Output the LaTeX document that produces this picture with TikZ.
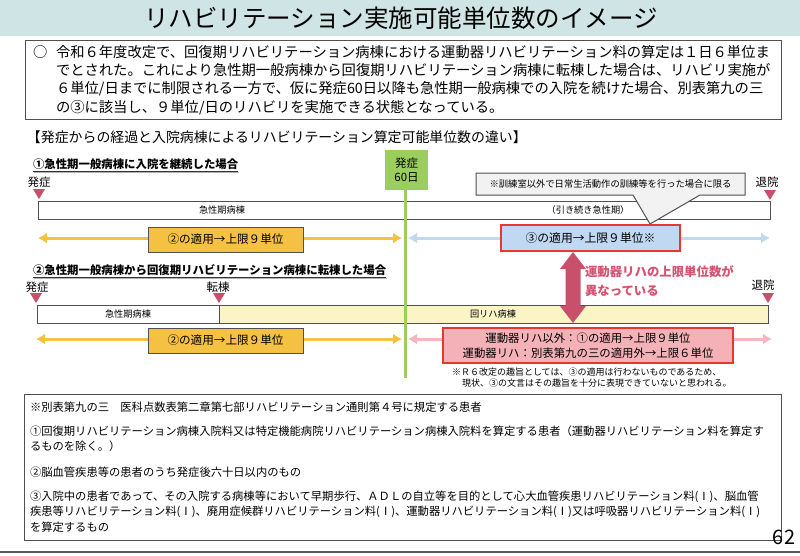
\documentclass[tikz,border=0pt]{standalone}
\usepackage{fontspec}
\setmainfont{Noto Sans CJK JP}
\usetikzlibrary{arrows.meta}
\newcommand\fsz[2]{\fontsize{#1}{#2}\selectfont}
\definecolor{titlebg}{RGB}{207,228,228}
\definecolor{grn}{RGB}{155,205,95}
\definecolor{orng}{RGB}{245,193,66}
\definecolor{lblue}{RGB}{192,216,242}
\definecolor{pinkar}{RGB}{245,182,190}
\definecolor{pinkbox}{RGB}{244,178,184}
\definecolor{redb}{RGB}{232,56,46}
\definecolor{rose}{RGB}{200,80,106}
\definecolor{rosetxt}{RGB}{212,82,114}
\definecolor{ylw}{RGB}{251,244,196}
\definecolor{gry}{RGB}{242,242,242}
\definecolor{edge}{RGB}{80,80,80}
\begin{document}
\begin{tikzpicture}[x=1pt,y=-1pt,
 t/.style={inner sep=0pt,outer sep=0pt},
 bx/.style={draw=edge,line width=1pt,inner sep=0pt,outer sep=0pt},
 arr/.style={line width=3pt,{Latex[length=9pt,width=11pt]}-{Latex[length=9pt,width=11pt]}},
 mk/.style={fill=rose},
 hd/.style={t,anchor=west,font=\fsz{11.4}{14}\bfseries},
 sm/.style={t,font=\fsz{9.2}{11}},
 it/.style={t,anchor=west,font=\fsz{14.3}{18}},
 bt/.style={t,anchor=west,font=\fsz{11.3}{14}}
]
\useasboundingbox (0,0) rectangle (800,555);
\fill[white] (0,0) rectangle (800,555);
% title
\fill[titlebg] (0,0) rectangle (800,36);
\node[t,font=\fsz{24.5}{28}] (title) at (401,18) {リハビリテーション実施可能単位数のイメージ};
% intro
\node[bx,minimum width=756,minimum height=79] (intro) at (403,79.5) {};
\node[it] (maru) at (33,52) {○};
\node[it] (il1) at (56,52) {令和６年度改定で、回復期リハビリテーション病棟における運動器リハビリテーション料の算定は１日６単位ま};
\node[it] (il2) at (56,70.5) {でとされた。これにより急性期一般病棟から回復期リハビリテーション病棟に転棟した場合は、リハビリ実施が};
\node[it] (il3) at (56,89) {６単位/日までに制限される一方で、仮に発症60日以降も急性期一般病棟での入院を続けた場合、別表第九の三};
\node[it] (il4) at (56,107.5) {の③に該当し、９単位/日のリハビリを実施できる状態となっている。};
% section heading
\node[t,anchor=west,font=\fsz{13.9}{16}] (sec) at (27,137) {【発症からの経過と入院病棟によるリハビリテーション算定可能単位数の違い】};
% case 1 heading
\node[hd] (h1) at (33,164) {①急性期一般病棟に入院を継続した場合};
\draw[line width=0.8pt,black!80] ([yshift=-1.5pt]h1.south west) -- ([yshift=-1.5pt]h1.south east);
\draw[line width=0.8pt,black!30] ([yshift=-2.6pt,xshift=1pt]h1.south west) -- ([yshift=-2.6pt,xshift=1pt]h1.south east);
% case 2 heading
\node[hd] (h2) at (33,270) {②急性期一般病棟から回復期リハビリテーション病棟に転棟した場合};
\draw[line width=0.8pt,black!80] ([yshift=-1.5pt]h2.south west) -- ([yshift=-1.5pt]h2.south east);
\draw[line width=0.8pt,black!30] ([yshift=-2.6pt,xshift=1pt]h2.south west) -- ([yshift=-2.6pt,xshift=1pt]h2.south east);
% green 60 day box
\node[t,fill=grn,minimum width=43,minimum height=40,align=center,font=\fsz{11.5}{13.5}] (g60) at (406.5,170) {発症\\60日};
% markers row 1
\node[t,font=\fsz{11.5}{13}] (on1) at (39,182) {発症};
\fill[mk] (33,189) -- (45,189) -- (39,199) -- cycle;
\node[t,font=\fsz{11.5}{13}] (dc1) at (767,182) {退院};
\fill[mk] (764,190) -- (776,190) -- (770,200) -- cycle;
% bar 1
\node[bx,fill=white,minimum width=732,minimum height=18] (bar1) at (404,210) {};
\node[sm] (b1t1) at (222,210) {急性期病棟};
\node[sm] (b1t2) at (588,210) {（引き続き急性期）};
% callout
\draw[edge,fill=gry,line width=1pt] (476,173) -- (745,173) -- (745,195) -- (700,195) -- (650,224) -- (633,195) -- (476,195) -- cycle;
\node[t,font=\fsz{9.3}{11}] (call) at (610.5,184) {※訓練室以外で日常生活動作の訓練等を行った場合に限る};
% arrows row 1
\coordinate (a1l) at (38,238);
\coordinate (a1r) at (402,238);
\coordinate (b1l) at (408,238);
\coordinate (b1r) at (770,238);
\draw[arr,draw=orng] (a1l) -- (a1r);
\draw[arr,draw=lblue] (b1l) -- (b1r);
\node[bx,fill=orng,minimum width=155,minimum height=25,font=\fsz{11.6}{14}] (ob1) at (225.5,239.5) {②の適用→上限９単位};
\node[t,draw=redb,line width=2.6pt,fill=lblue,minimum width=179,minimum height=26,font=\fsz{11.8}{14}] (rb3) at (590.5,238) {③の適用→上限９単位※};
% markers row 2
\node[t,font=\fsz{11.5}{13}] (on2) at (37,287) {発症};
\fill[mk] (30,293) -- (42,293) -- (36,303) -- cycle;
\node[t,font=\fsz{11.5}{13}] (tr2) at (218,287) {転棟};
\fill[mk] (213,293) -- (225,293) -- (219,303) -- cycle;
\node[t,font=\fsz{11.5}{13}] (dc2) at (763,285) {退院};
\fill[mk] (762,293) -- (774,293) -- (768,303) -- cycle;
% bar 2
\node[bx,fill=white,minimum width=182,minimum height=18] (bar2a) at (128,314) {};
\node[bx,fill=ylw,minimum width=549,minimum height=18] (bar2b) at (493.5,314) {};
\node[sm] (b2t1) at (128,314) {急性期病棟};
\node[sm] (b2t2) at (493,314) {回リハ病棟};
% arrows row 2
\coordinate (a2l) at (36,339);
\coordinate (a2r) at (402,339);
\coordinate (p2l) at (408,339);
\coordinate (p2r) at (772,339);
\draw[arr,draw=orng] (a2l) -- (a2r);
\draw[arr,draw=pinkar] (p2l) -- (p2r);
\node[bx,fill=orng,minimum width=155,minimum height=25,font=\fsz{11.6}{14}] (ob2) at (225.5,340.5) {②の適用→上限９単位};
\node[t,draw=redb,line width=2.6pt,fill=pinkbox,minimum width=290,minimum height=35,align=center,font=\fsz{11.4}{15}] (pb) at (588,345.5) {運動器リハ以外：①の適用→上限９単位\\運動器リハ：別表第九の三の適用外→上限６単位};
% note
\node[t,anchor=west,font=\fsz{9}{11}] (n1) at (452,372) {※Ｒ６改定の趣旨としては、③の適用は行わないものであるため、};
\node[t,anchor=west,font=\fsz{9}{11}] (n2) at (462,383) {現状、③の文言はその趣旨を十分に表現できていないと思われる。};
% big pink double arrow
\fill[rose] (573,252) -- (586,269) -- (580.5,269) -- (580.5,306) -- (586,306) -- (573,323) -- (560,306) -- (565.5,306) -- (565.5,269) -- (560,269) -- cycle;
\node[t,anchor=west,font=\fsz{12.4}{15}\bfseries,text=rosetxt] (diff1) at (585,272) {運動器リハの上限単位数が};
\node[t,anchor=west,font=\fsz{12.4}{15}\bfseries,text=rosetxt] (diff2) at (585,291) {異なっている};
% green line
\coordinate (gtop) at (405.5,190);
\coordinate (gbot) at (405.5,378);
\draw[grn,line width=3pt] (gtop) -- (gbot);
% bottom box
\node[bx,minimum width=757,minimum height=146] (defs) at (402.5,467) {};
\node[bt] (d1) at (30,407) {※別表第九の三　医科点数表第二章第七部リハビリテーション通則第４号に規定する患者};
\node[bt] (d2) at (30,431) {①回復期リハビリテーション病棟入院料又は特定機能病院リハビリテーション病棟入院料を算定する患者（運動器リハビリテーション料を算定す};
\node[bt] (d3) at (30,446) {るものを除く。）};
\node[bt] (d4) at (30,472) {②脳血管疾患等の患者のうち発症後六十日以内のもの};
\node[bt] (d5) at (30,497) {③入院中の患者であって、その入院する病棟等において早期歩行、ＡＤＬの自立等を目的として心大血管疾患リハビリテーション料(Ⅰ)、脳血管};
\node[bt] (d6) at (30,512) {疾患等リハビリテーション料(Ⅰ)、廃用症候群リハビリテーション料(Ⅰ)、運動器リハビリテーション料(Ⅰ)又は呼吸器リハビリテーション料(Ⅰ)};
\node[bt] (d7) at (30,527) {を算定するもの};
% page number
\node[t,font=\fsz{20}{24}] (pg) at (784,537) {62};
\coordinate (fl) at (0,552);
\coordinate (fr) at (800,552);
\draw[line width=1.5pt,black!65] (fl) -- (fr);
\end{tikzpicture}
\end{document}
